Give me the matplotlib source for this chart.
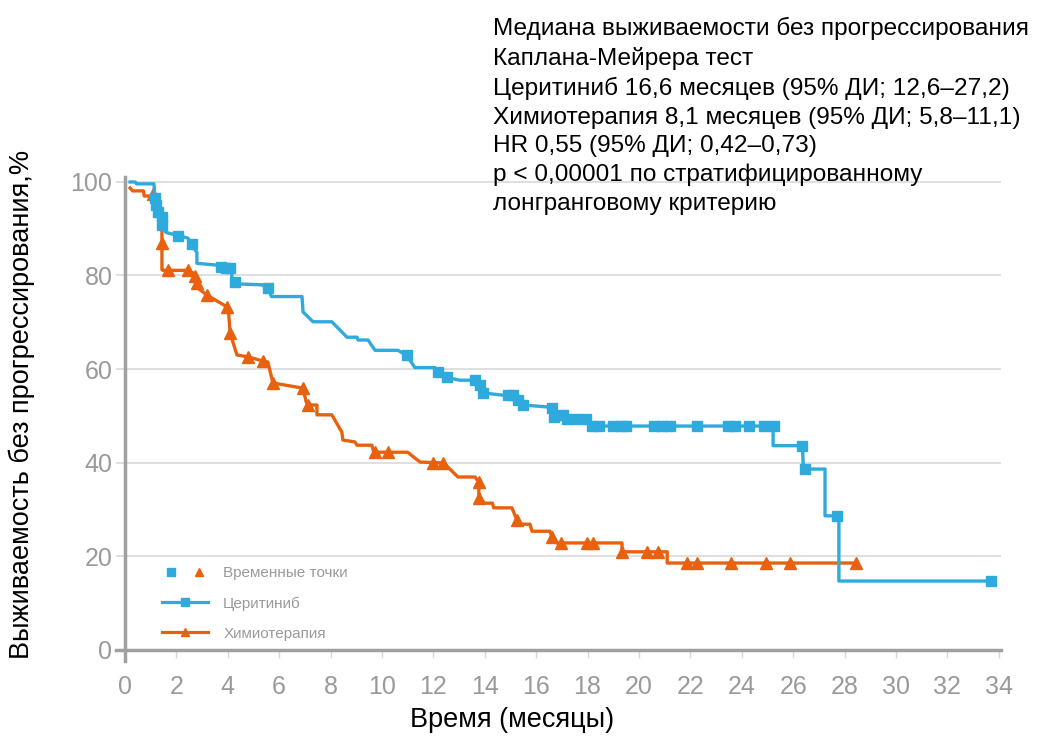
import matplotlib
matplotlib.use("Agg")
import matplotlib.pyplot as plt
from matplotlib.lines import Line2D
from matplotlib.legend_handler import HandlerTuple

# Curve vertices (months, % without progression)
cer_t = [0.2, 0.4, 0.45, 1.13, 1.17, 1.25, 1.44, 1.44, 1.6, 2.1, 2.45, 2.6, 2.8, 2.8, 3.62, 3.9,
         4.16, 4.16, 4.4, 5.33, 5.56, 5.7, 6.89, 6.93, 7.32, 8.05, 8.64, 9.03, 9.07, 9.46,
         9.73, 10.62, 10.97, 11.28, 12.06, 12.18, 12.53, 13.03, 13.62, 13.81, 13.93, 14.7,
         15.15, 15.3, 15.5, 16.4, 16.6, 16.7, 17.05, 17.2, 17.95, 18.17, 25.22, 25.22,
         26.36, 26.4, 27.24, 27.24, 27.78, 27.78, 33.7]
cer_s = [100, 100, 99.6, 99.6, 96.0, 94.0, 92.5, 90.8, 89.2, 88.5, 88.0, 86.7, 84.9, 82.6, 82.2,
         81.6, 81.4, 78.6, 78.2, 78.0, 77.4, 75.5, 75.5, 72.2, 70.1, 70.1, 66.8, 66.8, 66.2,
         66.2, 64.0, 64.0, 62.9, 60.3, 60.3, 59.3, 58.2, 57.6, 57.6, 56.6, 54.9, 54.4, 54.4,
         53.4, 52.3, 51.9, 51.6, 50.2, 50.2, 49.2, 49.2, 47.8, 47.8, 43.6, 43.6, 38.6, 38.6,
         28.6, 28.6, 14.65, 14.65]

chemo_t = [0.2, 0.3, 0.72, 0.75, 1.05, 1.3, 1.44, 1.44, 1.5, 2.5, 2.65, 2.75, 2.84, 3.19, 3.97,
           4.03, 4.09, 4.36, 4.79, 5.37, 5.56, 5.76, 6.93, 7.05, 7.12, 7.47, 7.47, 8.05, 8.44,
           8.48, 8.95, 9.03, 9.61, 9.68, 11.0, 11.48, 12.4, 12.96, 13.62, 13.77, 13.77, 14.0,
           14.3, 14.35, 15.06, 15.25, 15.3, 15.76, 15.84, 16.54, 16.61, 16.8, 19.34, 19.34,
           21.1, 21.1, 28.44]
chemo_s = [98.7, 98.1, 98.1, 97.0, 97.0, 93.0, 90.5, 81.2, 81.1, 81.1, 80.5, 79.5, 77.3, 75.8,
           73.3, 72.5, 67.7, 63.0, 62.6, 61.7, 61.5, 57.0, 55.9, 53.0, 52.3, 52.3, 50.2, 50.2,
           46.5, 44.8, 44.4, 43.7, 43.7, 42.2, 42.2, 40.1, 39.9, 36.9, 36.9, 35.8, 32.4, 31.3,
           31.3, 30.3, 30.3, 27.7, 26.8, 26.8, 25.3, 25.3, 24.1, 22.8, 22.8, 20.9, 20.9, 18.5,
           18.5]

# Censoring marks ("временные точки")
cer_cens_t = [1.17, 1.22, 1.3, 1.44, 1.44, 2.05, 2.6, 3.75, 3.95, 4.1, 4.28, 5.56, 10.97,
              12.18, 12.53, 13.62, 13.81, 13.93, 14.9, 15.1, 15.3, 15.5, 16.6, 16.7, 17.05,
              17.2, 17.55, 17.95, 18.17, 18.45, 19.0, 19.3, 19.5, 20.6, 20.9, 21.2, 22.26,
              23.45, 23.75, 24.3, 24.85, 25.25, 26.34, 26.45, 27.7, 33.7]
cer_cens_s = [96.5, 95.0, 93.5, 92.5, 90.8, 88.5, 86.7, 81.8, 81.6, 81.5, 78.6, 77.4, 62.9,
              59.3, 58.2, 57.6, 56.6, 54.9, 54.4, 54.4, 53.4, 52.3, 51.6, 49.8, 50.2,
              49.2, 49.2, 49.2, 47.8, 47.8, 47.8, 47.8, 47.8, 47.8, 47.8, 47.8, 47.8,
              47.8, 47.8, 47.8, 47.8, 47.8, 43.6, 38.6, 28.6, 14.65]

chemo_cens_t = [1.09, 1.44, 1.67, 2.45, 2.72, 2.8, 3.19, 3.97, 4.09, 4.79, 5.37, 5.76, 6.93,
                7.12, 9.73, 10.23, 11.98, 12.37, 13.77, 13.77, 15.25, 16.61, 16.96, 17.98,
                18.2, 19.34, 20.3, 20.74, 21.87, 22.26, 23.6, 24.94, 25.88, 28.44]
chemo_cens_s = [97.4, 87.0, 81.1, 81.1, 79.9, 78.4, 75.8, 73.3, 67.7, 62.6, 61.7, 57.0, 55.9,
                52.3, 42.2, 42.2, 39.9, 39.9, 35.8, 32.4, 27.7, 24.1, 22.8, 22.8,
                22.8, 20.9, 20.9, 20.9, 18.5, 18.5, 18.5, 18.5, 18.5, 18.5]

x_ticks = list(range(0, 35, 2))
y_ticks = [0, 20, 40, 60, 80, 100]

info_lines = [
    "Медиана выживаемости без прогрессирования",
    "Каплана-Мейрера тест",
    "Церитиниб 16,6 месяцев (95% ДИ; 12,6–27,2)",
    "Химиотерапия 8,1 месяцев (95% ДИ; 5,8–11,1)",
    "HR 0,55 (95% ДИ; 0,42–0,73)",
    "p < 0,00001 по стратифицированному",
    "лонгранговому критерию",
]

BLUE = "#2eaadc"
ORANGE = "#e8610e"
GRAY = "#9a9a9a"

plt.rcParams["font.family"] = ["Liberation Sans", "DejaVu Sans"]

fig = plt.figure(figsize=(10.37, 7.36), dpi=100)
ax = fig.add_axes([0.1123, 0.1016, 0.8533, 0.6575])

ax.plot(chemo_t, chemo_s, color=ORANGE, lw=2.4, zorder=3)
ax.plot(cer_t, cer_s, color=BLUE, lw=2.4, zorder=4)
ax.plot(chemo_cens_t, chemo_cens_s, "^", color=ORANGE, ms=8, zorder=3)
ax.plot(cer_cens_t, cer_cens_s, "s", color=BLUE, ms=7, zorder=4)

ax.set_xlim(-0.33, 34.1)
ax.set_ylim(-2.5, 101)
ax.set_xticks(x_ticks)
ax.set_yticks(y_ticks)

# axes styling
for s in ["top", "right"]:
    ax.spines[s].set_visible(False)
ax.spines["left"].set_position(("data", 0))
ax.spines["bottom"].set_position(("data", 0))
for s in ["left", "bottom"]:
    ax.spines[s].set_color("#a0a0a0")
    ax.spines[s].set_linewidth(2.5)
ax.yaxis.grid(True, color="#dcdcdc", lw=1.3)
ax.set_axisbelow(True)
ax.tick_params(axis="y", length=0, pad=9, labelsize=18, labelcolor=GRAY)
ax.tick_params(axis="x", length=6, width=1, color="#d8d8d8", pad=12, labelcolor=GRAY)
for lab in ax.get_xticklabels():
    lab.set_family(["Liberation Sans Narrow", "Liberation Sans", "DejaVu Sans"])
    lab.set_fontsize(18)

ax.set_xlabel("Время (месяцы)", fontsize=19.5, va="center")
ax.xaxis.set_label_coords(0.447, -0.1215)
ax.set_ylabel("Выживаемость без прогрессирования,%", fontsize=19.5, va="center")
ax.yaxis.set_label_coords(-0.107, 0.53)

# legend
h_marks = (Line2D([], [], ls="none", marker="s", ms=5.5, color=BLUE),
           Line2D([], [], ls="none", marker="^", ms=6, color=ORANGE))
h_cer = Line2D([], [], color=BLUE, lw=2.3, marker="s", ms=5.5)
h_chemo = Line2D([], [], color=ORANGE, lw=2.3, marker="^", ms=6)
leg = ax.legend([h_marks, h_cer, h_chemo], ["Временные точки", "Церитиниб", "Химиотерапия"],
                handler_map={tuple: HandlerTuple(ndivide=None, pad=0.6)},
                loc="upper left", bbox_to_anchor=(0.036, 0.225), frameon=False,
                fontsize=11, labelcolor=GRAY, handlelength=3.0, handletextpad=1.0,
                labelspacing=1.05)

fig.text(493 / 1037, 1 - 17 / 736, "\n".join(info_lines), fontsize=17.6,
         va="top", ha="left", linespacing=1.38)

fig.savefig("out.png", dpi=100)
